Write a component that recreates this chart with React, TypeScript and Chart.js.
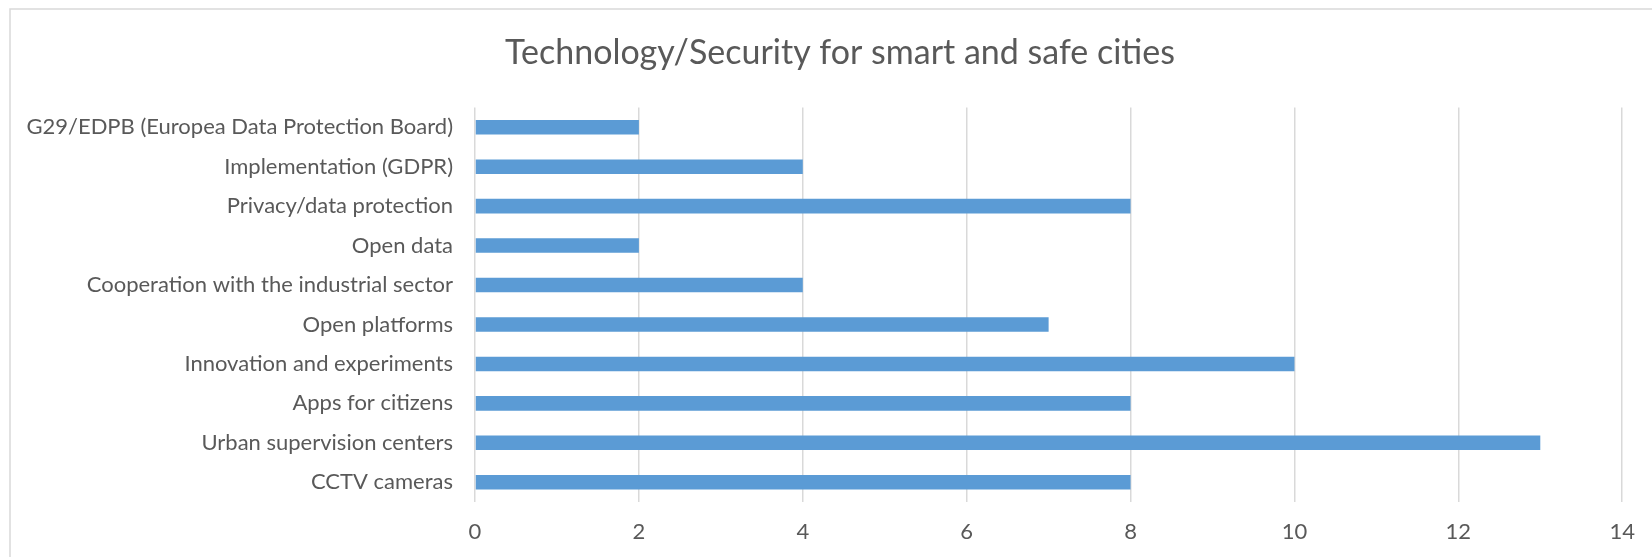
import React, { useEffect, useRef } from "react";
import { Chart, registerables } from "chart.js";

Chart.register(...registerables);

const titleText = "Technology/Security for smart and safe cities";
const categories = [
  "G29/EDPB (Europea Data Protection Board)",
  "Implementation (GDPR)",
  "Privacy/data protection",
  "Open data",
  "Cooperation with the industrial sector",
  "Open platforms",
  "Innovation and experiments",
  "Apps for citizens",
  "Urban supervision centers",
  "CCTV cameras",
];
const values = [2, 4, 8, 2, 4, 7, 10, 8, 13, 8];
const xMin = 0;
const xMax = 14;
const xStep = 2;

const FONT = "Lato, 'Open Sans', sans-serif";
const TEXT = "#595959";

const framePlugin = {
  id: "frame",
  beforeDraw(chart: any) {
    const ctx = chart.ctx;
    ctx.save();
    ctx.fillStyle = "#ffffff";
    ctx.fillRect(0, 0, chart.width, chart.height);
    ctx.strokeStyle = "#d9d9d9";
    ctx.lineWidth = 1.5;
    ctx.strokeRect(10, 9, chart.width + 50, chart.height + 50);
    ctx.restore();
  },
  afterDraw(chart: any) {
    const ctx = chart.ctx;
    ctx.save();
    ctx.fillStyle = TEXT;
    ctx.font = `normal 34px ${FONT}`;
    ctx.textAlign = "center";
    ctx.textBaseline = "alphabetic";
    ctx.fillText(titleText, 840, 64);
    ctx.restore();
  },
};

export default function App() {
  const ref = useRef<HTMLCanvasElement | null>(null);
  useEffect(() => {
    if (!ref.current) return;
    const chart = new Chart(ref.current, {
      type: "bar",
      data: {
        labels: categories,
        datasets: [
          {
            data: values,
            backgroundColor: "#5b9bd5",
            borderWidth: 0,
            categoryPercentage: 1,
            barPercentage: 0.37,
          },
        ],
      },
      options: {
        indexAxis: "y",
        animation: false,
        responsive: false,
        layout: { padding: { left: 0, right: 24, top: 107.5, bottom: 0 } },
        plugins: {
          legend: { display: false },
          tooltip: { enabled: false },
          title: { display: false },
        },
        scales: {
          x: {
            min: xMin,
            max: xMax,
            ticks: {
              stepSize: xStep,
              color: TEXT,
              font: { family: FONT, size: 22 },
              padding: 17,
            },
            grid: { color: "#d9d9d9", lineWidth: 1.5, drawTicks: false },
            border: { display: false },
            afterFit(scale: any) {
              scale.height = 55;
            },
          },
          y: {
            ticks: {
              color: TEXT,
              font: { family: FONT, size: 22 },
              padding: 22,
            },
            grid: { display: false, drawTicks: false },
            border: { display: false },
            afterFit(scale: any) {
              scale.width = 475;
            },
          },
        },
      },
      plugins: [framePlugin],
    });
    return () => chart.destroy();
  }, []);
  return (
    <div style={{ position: "absolute", left: 0, top: 0, width: 1652, height: 557, overflow: "hidden" }}>
      <canvas ref={ref} width={1652} height={557} style={{ display: "block" }} />
    </div>
  );
}
